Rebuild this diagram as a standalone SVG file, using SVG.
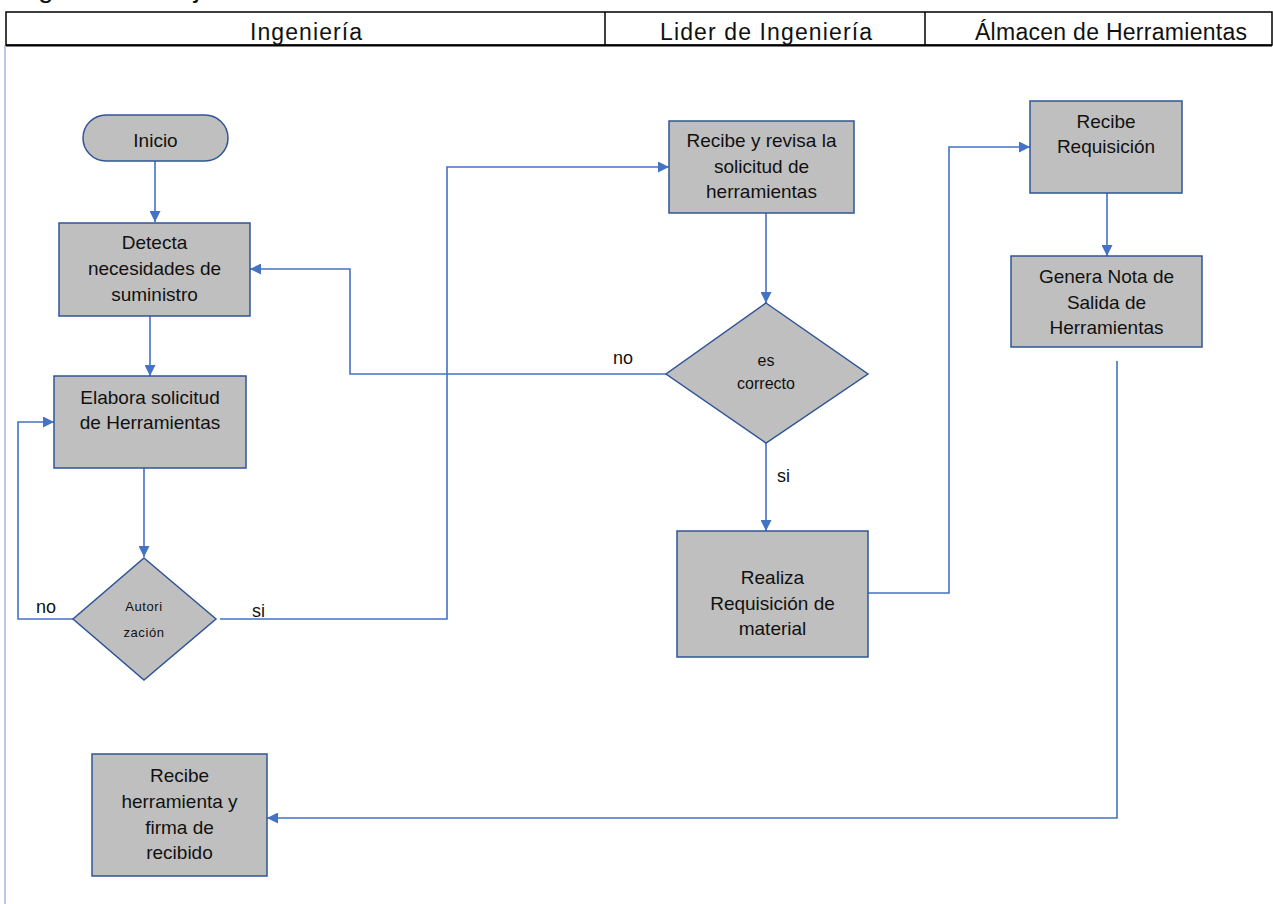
<svg xmlns="http://www.w3.org/2000/svg" width="1273" height="904" viewBox="0 0 1273 904">
  <style>
    .bg { fill: #ffffff; }
    .hdr { font-family: "Liberation Sans", Arial, sans-serif; font-size: 23px; fill: #111; text-anchor: middle; }
    .title { font-family: "Liberation Sans", Arial, sans-serif; font-size: 28px; fill: #111; }
    .box { fill: #bfbfbf; stroke: #2f5597; stroke-width: 1.5; }
    .t { font-family: "Liberation Sans", Arial, sans-serif; font-size: 19px; fill: #111; text-anchor: middle; }
    .ts { font-family: "Liberation Sans", Arial, sans-serif; font-size: 16px; fill: #111; text-anchor: middle; }
    .tx { font-family: "Liberation Sans", Arial, sans-serif; font-size: 13px; fill: #111; text-anchor: middle; letter-spacing: 0.6px; }
    .lbl { font-family: "Liberation Sans", Arial, sans-serif; font-size: 18px; fill: #111; }
    .conn { fill: none; stroke: #4472c4; stroke-width: 1.6; }
  </style>
  <defs>
    <marker id="arrow" markerUnits="userSpaceOnUse" viewBox="0 0 10 10" refX="10" refY="5" markerWidth="11" markerHeight="11" orient="auto">
      <path d="M0,0 L10,5 L0,10 z" fill="#4472c4"/>
    </marker>
  </defs>

  <rect class="bg" x="0" y="0" width="1273" height="904"/>

  <!-- page title, clipped by the top edge -->
  <text class="title" x="-4" y="-3">Diagrama de flujo</text>

  <!-- left page margin rule -->
  <line x1="5" y1="45" x2="5" y2="904" stroke="#bcc6ea" stroke-width="2"/>

  <!-- swimlane header -->
  <g id="header">
    <rect x="6" y="12" width="1266" height="33" fill="#ffffff" stroke="#000" stroke-width="1.5"/>
    <line x1="6" y1="45.5" x2="1272" y2="45.5" stroke="#000" stroke-width="2"/>
    <line x1="605" y1="12" x2="605" y2="45" stroke="#000" stroke-width="1.5"/>
    <line x1="925" y1="12" x2="925" y2="45" stroke="#000" stroke-width="1.5"/>
    <text class="hdr" x="306" y="39.5" textLength="112" lengthAdjust="spacing">Ingeniería</text>
    <text class="hdr" x="766" y="39.5" textLength="212" lengthAdjust="spacing">Lider de Ingeniería</text>
    <text class="hdr" x="1111" y="39.5" textLength="272" lengthAdjust="spacing">Álmacen de Herramientas</text>
  </g>

  <!-- connectors -->
  <g id="connectors">
    <path class="conn" d="M155,161 V222" marker-end="url(#arrow)"/>
    <path class="conn" d="M150,316 V376" marker-end="url(#arrow)"/>
    <path class="conn" d="M144,468 V557" marker-end="url(#arrow)"/>
    <path class="conn" d="M73,619 H18 V422 H54" marker-end="url(#arrow)"/>
    <path class="conn" d="M220,619 H447 V167 H669" marker-end="url(#arrow)"/>
    <path class="conn" d="M766,213 V303" marker-end="url(#arrow)"/>
    <path class="conn" d="M666,374 H350 V269 H250" marker-end="url(#arrow)"/>
    <path class="conn" d="M766,443 V531" marker-end="url(#arrow)"/>
    <path class="conn" d="M868,593 H949 V147 H1030" marker-end="url(#arrow)"/>
    <path class="conn" d="M1107,193 V256" marker-end="url(#arrow)"/>
    <path class="conn" d="M1117,361 V818 H267" marker-end="url(#arrow)"/>
    <text class="lbl" x="36" y="613">no</text>
    <text class="lbl" x="252" y="617">si</text>
    <text class="lbl" x="613" y="364">no</text>
    <text class="lbl" x="777" y="482">si</text>
  </g>

  <g id="inicio">
    <rect class="box" x="83" y="115" width="145" height="46" rx="23" ry="23"/>
    <text class="t" x="155.5" y="147">Inicio</text>
  </g>

  <g id="detecta">
    <rect class="box" x="59" y="223" width="191" height="93"/>
    <text class="t" x="154.5" y="249">Detecta</text>
    <text class="t" x="154.5" y="275">necesidades de</text>
    <text class="t" x="154.5" y="301">suministro</text>
  </g>

  <g id="elabora">
    <rect class="box" x="54" y="376" width="192" height="92"/>
    <text class="t" x="150" y="404">Elabora solicitud</text>
    <text class="t" x="150" y="429">de Herramientas</text>
  </g>

  <g id="autorizacion">
    <polygon class="box" points="144,558 216,619 144,680 73,619"/>
    <text class="tx" x="144" y="611">Autori</text>
    <text class="tx" x="144" y="637">zación</text>
  </g>

  <g id="recibe-revisa">
    <rect class="box" x="669" y="121" width="185" height="92"/>
    <text class="t" x="761.5" y="147">Recibe y revisa la</text>
    <text class="t" x="761.5" y="173">solicitud de</text>
    <text class="t" x="761.5" y="198">herramientas</text>
  </g>

  <g id="es-correcto">
    <polygon class="box" points="766,303 868,374 766,443 666,374"/>
    <text class="ts" x="766" y="366">es</text>
    <text class="ts" x="766" y="389">correcto</text>
  </g>

  <g id="realiza">
    <rect class="box" x="677" y="531" width="191" height="126"/>
    <text class="t" x="772.5" y="584">Realiza</text>
    <text class="t" x="772.5" y="610">Requisición de</text>
    <text class="t" x="772.5" y="635">material</text>
  </g>

  <g id="recibe-requisicion">
    <rect class="box" x="1030" y="101" width="152" height="92"/>
    <text class="t" x="1106" y="128">Recibe</text>
    <text class="t" x="1106" y="153">Requisición</text>
  </g>

  <g id="genera-nota">
    <rect class="box" x="1011" y="256" width="191" height="91"/>
    <text class="t" x="1106.5" y="283">Genera Nota de</text>
    <text class="t" x="1106.5" y="309">Salida de</text>
    <text class="t" x="1106.5" y="334">Herramientas</text>
  </g>

  <g id="recibe-herramienta">
    <rect class="box" x="92" y="754" width="175" height="122"/>
    <text class="t" x="179.5" y="782">Recibe</text>
    <text class="t" x="179.5" y="808">herramienta y</text>
    <text class="t" x="179.5" y="834">firma de</text>
    <text class="t" x="179.5" y="859">recibido</text>
  </g>
</svg>
